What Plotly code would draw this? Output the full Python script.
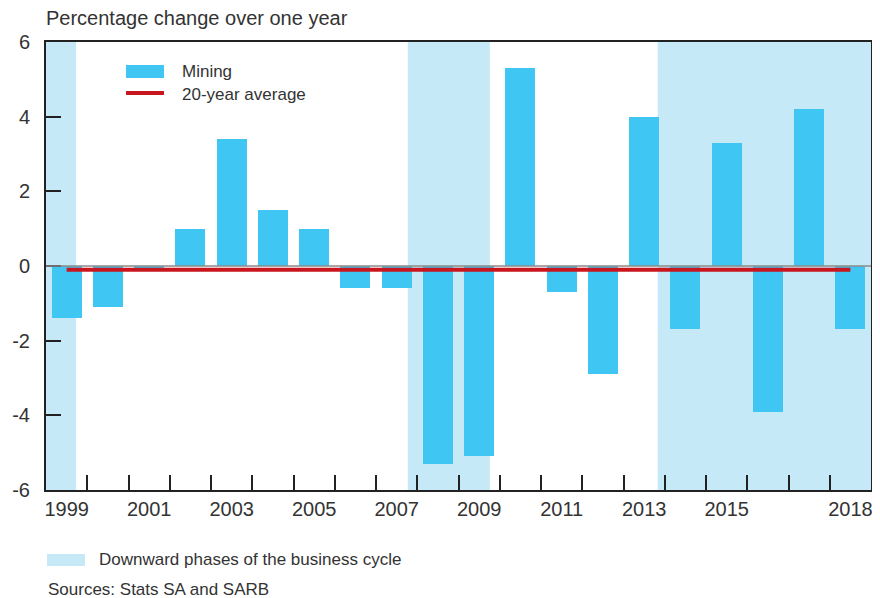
import plotly.graph_objects as go

# ---- data ----
years = list(range(1999, 2019))
mining = [-1.4, -1.1, -0.1, 1.0, 3.4, 1.5, 1.0, -0.6, -0.6, -5.3,
          -5.1, 5.3, -0.7, -2.9, 4.0, -1.7, 3.3, -3.9, 4.2, -1.7]
avg_20yr = -0.1
downward_start = [1998.5, 2007.27, 2013.33]
downward_end = [1999.23, 2009.26, 2018.5]
x_tick_labels = ["1999", "2001", "2003", "2005", "2007", "2009", "2011", "2013", "2015", "2018"]
x_tick_vals = [1999, 2001, 2003, 2005, 2007, 2009, 2011, 2013, 2015, 2018]
y_ticks = [-6, -4, -2, 0, 2, 4, 6]
y_tick_labels = ["-6", "-4", "-2", "0", "2", "4", "6"]

BAR = "#40C6F2"
SHADE = "#C6E9F8"
RED = "#C8161E"
TXT = "#333333"
AX = "#222222"
FONT = "Liberation Sans, Arial, sans-serif"

fig = go.Figure()
fig.add_trace(go.Bar(x=years, y=mining, marker=dict(color=BAR, line=dict(width=0)),
                     width=0.727, showlegend=False, name="Mining"))
fig.add_trace(go.Scatter(x=[years[0], years[-1]], y=[avg_20yr, avg_20yr], mode="lines",
                         line=dict(color=RED, width=4), showlegend=False,
                         name="20-year average"))

shapes = []
for s, e in zip(downward_start, downward_end):
    shapes.append(dict(type="rect", xref="x", yref="paper", x0=s, x1=e, y0=0, y1=1,
                       fillcolor=SHADE, line=dict(width=0), layer="below"))
# zero line
shapes.append(dict(type="line", xref="paper", yref="y", x0=0, x1=1, y0=0, y1=0,
                   line=dict(color="#8a8a8a", width=1.5), layer="above"))
# legend swatches
shapes.append(dict(type="rect", xref="paper", yref="paper", x0=0.097, x1=0.143,
                   y0=0.9196, y1=0.9487, fillcolor=BAR, line=dict(width=0)))
shapes.append(dict(type="line", xref="paper", yref="paper", x0=0.097, x1=0.143,
                   y0=0.886, y1=0.886, line=dict(color=RED, width=4)))
shapes.append(dict(type="rect", xref="paper", yref="paper", x0=0.0012, x1=0.0473,
                   y0=-0.1696, y1=-0.1429, fillcolor=SHADE, line=dict(width=0)))

annotations = [
    dict(text="Mining", xref="paper", yref="paper", x=0.1624, y=0.9342,
         xanchor="left", yanchor="middle", showarrow=False,
         font=dict(size=17, color=TXT, family=FONT)),
    dict(text="20-year average", xref="paper", yref="paper", x=0.1624, y=0.8817,
         xanchor="left", yanchor="middle", showarrow=False,
         font=dict(size=17, color=TXT, family=FONT)),
    dict(text="Percentage change over one year", xref="paper", yref="paper",
         x=-0.003, y=1.0536, xanchor="left", yanchor="middle", showarrow=False,
         font=dict(size=20, color=TXT, family=FONT)),
    dict(text="Downward phases of the business cycle", xref="paper", yref="paper",
         x=0.0618, y=-0.156, xanchor="left", yanchor="middle", showarrow=False,
         font=dict(size=17, color=TXT, family=FONT)),
    dict(text="Sources: Stats SA and SARB", xref="paper", yref="paper",
         x=0.0, y=-0.2232, xanchor="left", yanchor="middle", showarrow=False,
         font=dict(size=17, color=TXT, family=FONT)),
]

fig.update_layout(
    width=872, height=590,
    margin=dict(l=38, r=9, t=34, b=108, autoexpand=False),
    paper_bgcolor="white", plot_bgcolor="white",
    shapes=shapes, annotations=annotations,
    bargap=0, showlegend=False,
    font=dict(family=FONT, color=TXT),
)
fig.update_xaxes(
    range=[1998.5, 2018.5], tickvals=x_tick_vals, ticktext=x_tick_labels,
    ticks="", showgrid=False, zeroline=False, automargin=False,
    showline=True, linecolor=AX, linewidth=2, mirror=True,
    tickfont=dict(size=20, color=TXT, family=FONT),
    minor=dict(tickvals=[y + 0.5 for y in years[:-1]], ticks="inside", ticklen=15,
               tickwidth=2, tickcolor=AX, showgrid=False),
)
fig.update_yaxes(
    range=[-6, 6], tickvals=y_ticks, ticktext=y_tick_labels,
    ticks="inside", ticklen=15, tickwidth=2,
    tickcolor=AX, showgrid=False, zeroline=False, automargin=False,
    showline=True, linecolor=AX, linewidth=2, mirror=True,
    tickfont=dict(size=20, color=TXT, family=FONT), ticklabelstandoff=10,
)

fig.write_html("out.html")
